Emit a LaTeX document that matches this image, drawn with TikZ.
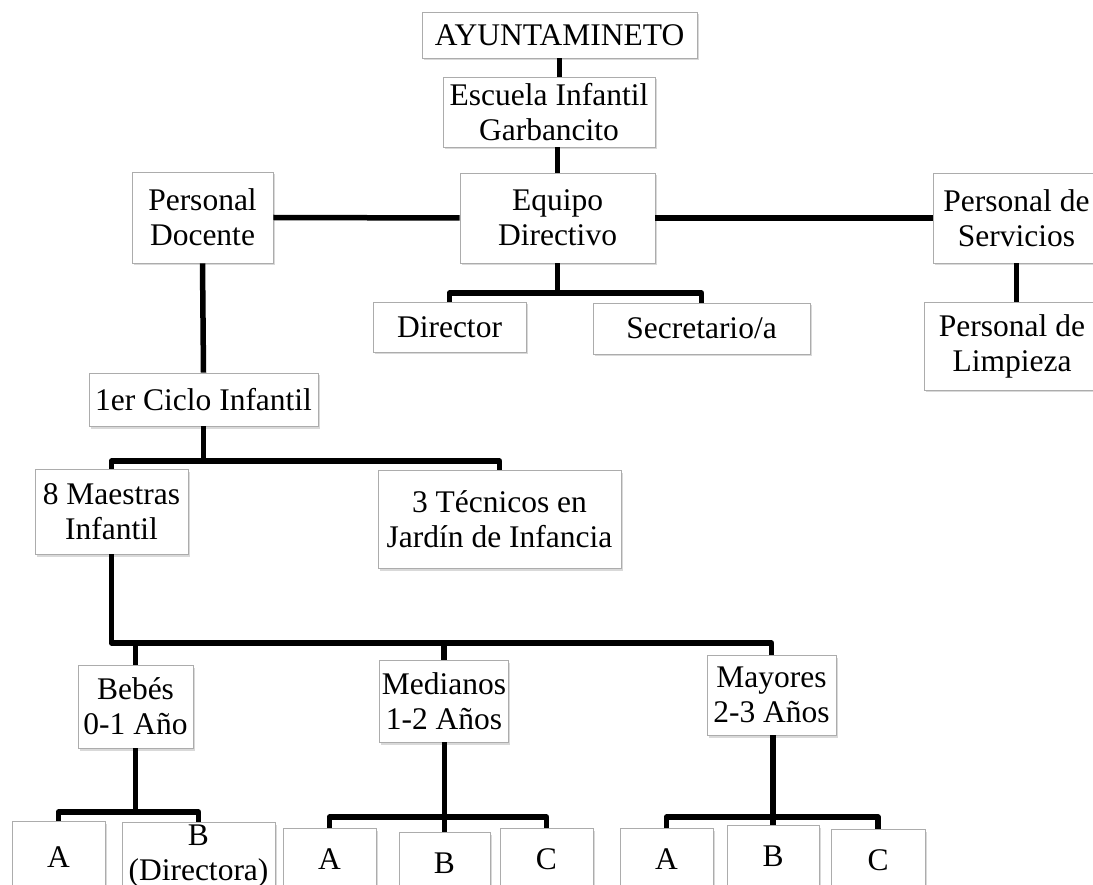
\documentclass[tikz,border=0pt]{standalone}
\usepackage{fontspec}
\setmainfont{Liberation Serif}
\usetikzlibrary{shadows}

\tikzset{
    caja/.style={draw=gray!65, line width=0.8pt, fill=white, align=center, inner sep=2pt,
        font=\fontsize{31.5}{35}\selectfont,
        drop shadow={shadow xshift=1.5pt, shadow yshift=-2.5pt, opacity=0.3, fill=gray}},
    hoja/.style={caja, anchor=north, minimum height=62pt},
    linea/.style={line width=5.5pt, line join=round},
}

\begin{document}
\begin{tikzpicture}[x=1pt, y=-1pt]
        \useasboundingbox (0,0) rectangle (1093,885);

        \node[caja, minimum width=275pt, minimum height=46pt] (ayto) at (559.5,35) {AYUNTAMINETO};
        \node[caja, minimum width=212pt, minimum height=70pt] (esc) at (549,112) {Escuela Infantil\\Garbancito};
        \node[caja, minimum width=195pt, minimum height=90pt] (equipo) at (557.5,218) {Equipo\\Directivo};
        \node[caja, minimum width=141pt, minimum height=91pt] (docente) at (202.5,217.5) {Personal\\Docente};
        \node[caja, minimum width=167pt, minimum height=90pt] (serv) at (1016.5,218) {Personal de\\Servicios};
        \node[caja, minimum width=176pt, minimum height=88pt] (limp) at (1012,346) {Personal de\\Limpieza};
        \node[caja, minimum width=153pt, minimum height=50pt] (dir) at (449.5,327) {Director};
        \node[caja, minimum width=217pt, minimum height=51pt] (secr) at (701.5,328.5) {Secretario/a};
        \node[caja, minimum width=229pt, minimum height=53pt] (ciclo) at (203.5,399.5) {1er Ciclo Infantil};
        \node[caja, minimum width=153pt, minimum height=85pt] (maes) at (111.5,511.5) {8 Maestras\\Infantil};
        \node[caja, minimum width=243pt, minimum height=98pt] (tec) at (499.5,519) {3 Técnicos en\\Jardín de Infancia};
        \node[caja, minimum width=115pt, minimum height=83pt] (bebes) at (135.5,706.5) {Bebés\\0-1 Año};
        \node[caja, minimum width=129pt, minimum height=82pt] (medi) at (444,701) {Medianos\\1-2 Años};
        \node[caja, minimum width=129pt, minimum height=80pt] (mayo) at (771.5,695) {Mayores\\2-3 Años};

        \node[hoja, minimum width=93pt, minimum height=72pt] (ba) at (58.5,821) {A};
        \node[hoja, minimum width=153pt, minimum height=64pt] (bb) at (198.5,822) {B\\(Directora)};
        \node[hoja, minimum width=93pt] (ma) at (329.5,828) {A};
        \node[hoja, minimum width=91pt] (mb) at (444.5,832) {B};
        \node[hoja, minimum width=93pt] (mc) at (546.5,828) {C};
        \node[hoja, minimum width=93pt] (ya) at (666.5,828) {A};
        \node[hoja, minimum width=92pt] (yb) at (773,825) {B};
        \node[hoja, minimum width=94pt] (yc) at (878,829) {C};

        \coordinate (dbar) at (557.5,293);
        \coordinate (cbar) at (203.5,461);
        \coordinate (gbar) at (111.5,643);
        \coordinate (bbar) at (135.5,812);
        \coordinate (mbar) at (444.5,817);
        \coordinate (ybar) at (773,817);

        \draw[linea] (ayto.south) -- (ayto.south |- esc.north);
        \draw[linea] (equipo.north |- esc.south) -- (equipo.north);
        \draw[linea] (docente.east) -- (equipo.west);
        \draw[linea] (equipo.east) -- (serv.west);
        \draw[linea] (limp.north -| serv.south) -- (serv.south);
        \draw[linea] (equipo.south) -- (dbar);
        \draw[linea] (dir.north) |- (dbar) -| (secr.north);
        \draw[linea] (docente.south) -- (ciclo.north);
        \draw[linea] (ciclo.south) -- (cbar);
        \draw[linea] (maes.north) |- (cbar) -| (tec.north);
        \draw[linea] (maes.south) |- (gbar) -| (mayo.north);
        \draw[linea] (bebes.north) -- (bebes.north |- gbar);
        \draw[linea] (medi.north) -- (medi.north |- gbar);
        \draw[linea] (bebes.south) -- (bbar);
        \draw[linea] (ba.north) |- (bbar) -| (bb.north);
        \draw[linea] (medi.south -| mb.north) -- (mb.north);
        \draw[linea] (ma.north) |- (mbar) -| (mc.north);
        \draw[linea] (mayo.south -| yb.north) -- (yb.north);
        \draw[linea] (ya.north) |- (ybar) -| (yc.north);
\end{tikzpicture}
\end{document}
